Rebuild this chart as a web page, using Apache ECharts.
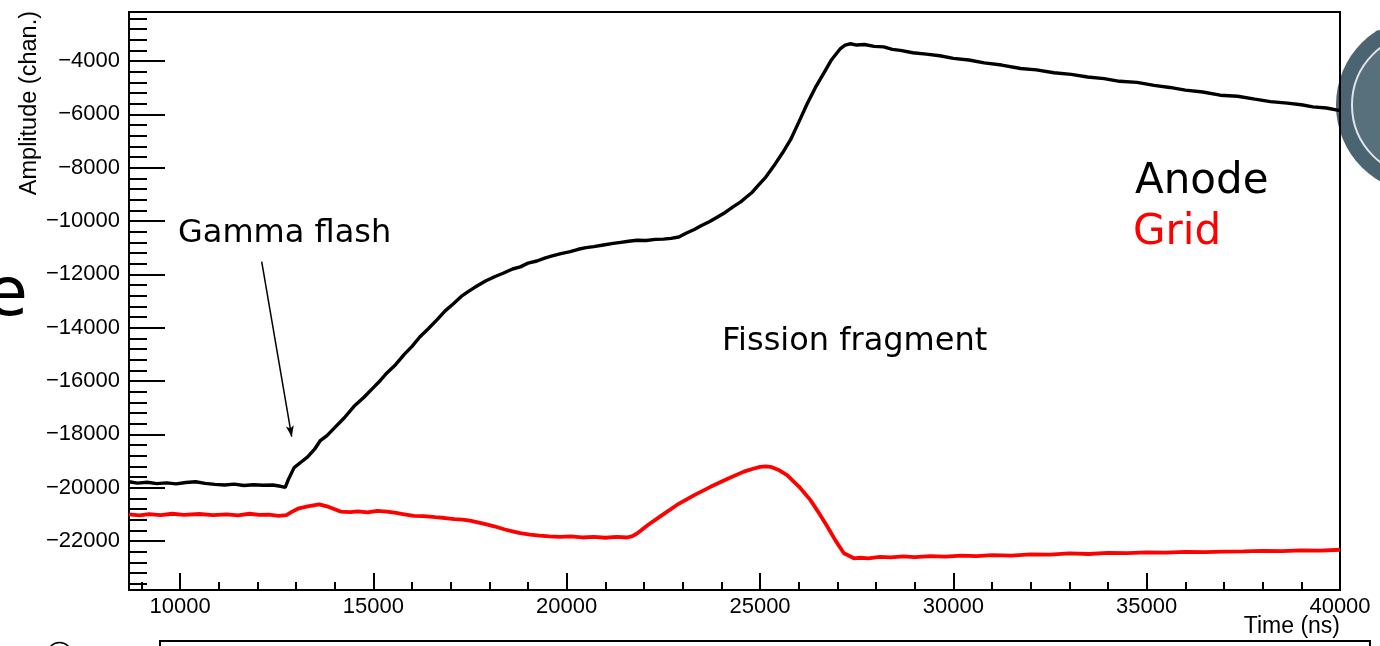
<!DOCTYPE html>
<html>
<head>
<meta charset="utf-8">
<script src="https://cdn.jsdelivr.net/npm/echarts@6/dist/echarts.min.js"></script>
<style>
html,body{margin:0;padding:0;background:#fff;}
#chart{width:1380px;height:646px;}
</style>
</head>
<body>
<div id="chart"></div>
<script>
// ---- Data ----
const anodeTime = [8680,8900,9150,9400,9650,9900,10150,10400,10650,10900,11150,11400,11650,11900,12150,12400,12600,12720,12800,12950,13150,13300,13480,13620,13800,14000,14250,14500,14750,15000,15180,15350,15580,15800,16000,16200,16420,16650,16850,17070,17280,17500,17700,17900,18150,18370,18600,18800,19000,19230,19450,19650,19850,20090,20300,20500,20700,20950,21200,21400,21600,21820,22050,22300,22500,22700,22900,23100,23300,23450,23700,23900,24100,24320,24500,24650,24800,24930,25150,25350,25580,25790,26000,26220,26430,26650,26850,27080,27200,27340,27500,27700,27950,28200,28420,28630,28950,29300,29650,30000,30400,30800,31250,31740,32150,32600,33050,33470,33900,34300,34750,35190,35600,36000,36450,36900,37350,37800,38200,38640,39000,39300,39650,40000];
const anodeAmp = [-19780,-19830,-19800,-19850,-19820,-19860,-19810,-19780,-19840,-19880,-19900,-19870,-19920,-19890,-19910,-19900,-19950,-19990,-19700,-19250,-19020,-18850,-18560,-18250,-18050,-17750,-17380,-16950,-16620,-16250,-15980,-15700,-15380,-15000,-14700,-14350,-14040,-13700,-13380,-13100,-12820,-12600,-12420,-12250,-12080,-11950,-11800,-11720,-11580,-11500,-11380,-11300,-11220,-11150,-11060,-11000,-10960,-10900,-10840,-10800,-10760,-10720,-10730,-10690,-10680,-10650,-10600,-10450,-10320,-10200,-10020,-9850,-9680,-9450,-9280,-9100,-8920,-8700,-8350,-7950,-7450,-6950,-6300,-5600,-5000,-4450,-3950,-3530,-3400,-3350,-3400,-3380,-3450,-3470,-3560,-3600,-3690,-3740,-3800,-3900,-3960,-4070,-4150,-4280,-4330,-4440,-4500,-4600,-4660,-4760,-4800,-4910,-4990,-5090,-5160,-5280,-5320,-5430,-5520,-5580,-5640,-5720,-5760,-5860];

const gridTime = [8680,8950,9200,9500,9800,10100,10500,10850,11200,11500,11800,12050,12300,12550,12750,12900,13050,13300,13600,13800,13950,14150,14400,14600,14850,15100,15350,15550,15800,16050,16300,16600,16850,17100,17300,17500,17700,17900,18150,18400,18600,18800,19050,19300,19550,19830,20100,20400,20700,21000,21300,21560,21700,21820,22100,22420,22850,23300,23720,24150,24580,24800,25000,25150,25270,25500,25700,26000,26300,26500,26740,26950,27170,27430,27600,27800,28100,28380,28700,29000,29400,29800,30200,30600,31000,31500,32000,32500,33000,33500,34000,34500,35000,35500,36000,36500,37000,37500,38000,38500,39000,39500,40000];
const gridAmp = [-21000,-21040,-20990,-21030,-20980,-21020,-20990,-21030,-21000,-21040,-20980,-21020,-21010,-21060,-21030,-20900,-20790,-20700,-20630,-20700,-20780,-20900,-20920,-20890,-20930,-20870,-20900,-20940,-21000,-21060,-21070,-21110,-21140,-21180,-21200,-21240,-21300,-21370,-21460,-21570,-21640,-21710,-21760,-21800,-21830,-21850,-21830,-21870,-21850,-21880,-21850,-21870,-21820,-21720,-21400,-21080,-20650,-20280,-19970,-19680,-19400,-19300,-19220,-19200,-19220,-19350,-19530,-19950,-20460,-20900,-21460,-21980,-22460,-22650,-22630,-22650,-22600,-22620,-22580,-22610,-22570,-22590,-22550,-22570,-22530,-22550,-22500,-22510,-22470,-22490,-22450,-22460,-22430,-22440,-22410,-22420,-22400,-22390,-22370,-22380,-22350,-22360,-22330];

const xMajorTicks = [10000,15000,20000,25000,30000,35000,40000];
const yMajorTicks = [-22000,-20000,-18000,-16000,-14000,-12000,-10000,-8000,-6000,-4000];

const xRange = [8680, 40000];
const yRange = [-23840, -2160];

// minor ticks (1000 for x, 400 for y), skipping majors
const xMinorTicks = [];
for (let v = 9000; v < 40000; v += 1000) if (v % 5000 !== 0) xMinorTicks.push(v);
const yMinorTicks = [];
for (let v = -23600; v <= -2400; v += 400) if (v % 2000 !== 0) yMinorTicks.push(v);

const anodeData = anodeTime.map((t, i) => [t, anodeAmp[i]]);
const gridData = gridTime.map((t, i) => [t, gridAmp[i]]);

const tickFont = 'Liberation Sans';
const fmt = v => String(v).replace('-', '\u2212');

const chart = echarts.init(document.getElementById('chart'), null, {renderer: 'canvas'});
chart.setOption({
  animation: false,
  backgroundColor: '#fff',
  grid: {left: 129, right: 40, top: 12, bottom: 56, show: true, borderColor: '#000', borderWidth: 2, backgroundColor: 'transparent'},
  xAxis: [
    {
      type: 'value', min: xRange[0], max: xRange[1],
      axisLine: {show: true, onZero: false, lineStyle: {color: '#000', width: 2}},
      axisTick: {show: true, inside: true, length: 17, customValues: xMajorTicks, lineStyle: {color: '#000', width: 2}},
      axisLabel: {show: true, customValues: xMajorTicks, margin: 6, color: '#000', fontFamily: tickFont, fontSize: 22, formatter: fmt},
      splitLine: {show: false}
    },
    {
      type: 'value', min: xRange[0], max: xRange[1], position: 'bottom',
      axisLine: {show: false},
      axisTick: {show: true, inside: true, length: 8, customValues: xMinorTicks, lineStyle: {color: '#000', width: 2}},
      axisLabel: {show: false},
      splitLine: {show: false}
    }
  ],
  yAxis: [
    {
      type: 'value', min: yRange[0], max: yRange[1],
      axisLine: {show: true, onZero: false, lineStyle: {color: '#000', width: 2}},
      axisTick: {show: true, inside: true, length: 36, customValues: yMajorTicks, lineStyle: {color: '#000', width: 2}},
      axisLabel: {show: true, customValues: yMajorTicks, margin: 9, color: '#000', fontFamily: tickFont, fontSize: 22, formatter: fmt},
      splitLine: {show: false}
    },
    {
      type: 'value', min: yRange[0], max: yRange[1], position: 'left',
      axisLine: {show: false},
      axisTick: {show: true, inside: true, length: 18, customValues: yMinorTicks, lineStyle: {color: '#000', width: 2}},
      axisLabel: {show: false},
      splitLine: {show: false}
    }
  ],
  series: [
    {
      name: 'Anode', type: 'line', xAxisIndex: 0, yAxisIndex: 0, data: anodeData,
      showSymbol: false, lineStyle: {color: '#000', width: 3.4}, z: 3,
      markLine: {
        silent: true, symbol: ['none', 'arrow'], symbolSize: [6, 11],
        lineStyle: {color: '#000', width: 1.5, type: 'solid'}, label: {show: false},
        data: [[{coord: [12112, -11526]}, {coord: [12888, -18090]}]]
      }
    },
    {
      name: 'Grid', type: 'line', xAxisIndex: 0, yAxisIndex: 0, data: gridData,
      showSymbol: false, lineStyle: {color: '#ff0000', width: 3.8}, z: 2
    }
  ],
  graphic: [
    // logo fragment at right edge
    {type: 'circle', z: -10, shape: {cx: 1424, cy: 105, r: 88}, style: {fill: '#4b6471'}},
    {type: 'circle', z: -9, shape: {cx: 1424, cy: 105, r: 72}, style: {fill: '#58707c', stroke: '#dfe6ea', lineWidth: 2}},
    {type: 'text', z: -8, x: 1343, y: 34, rotation: 0.35, style: {text: 'ΧΝΕΙΟ', fill: '#ffffff', font: 'bold 12px "DejaVu Sans"'}},
    // slide text fragment
    {type: 'text', x: -14, y: 297, style: {text: 'e', fill: '#000', font: '68px "DejaVu Sans"', align: 'left', verticalAlign: 'middle'}},
    // bottom slide elements
    {type: 'circle', shape: {cx: 59.5, cy: 655, r: 12.5}, style: {fill: 'none', stroke: '#000', lineWidth: 1.5}},
    {type: 'rect', shape: {x: 160, y: 641, width: 1210, height: 100}, style: {fill: 'none', stroke: '#000', lineWidth: 2}},
    // axis titles
    {type: 'text', x: 30, y: 11, rotation: Math.PI / 2, style: {text: 'Amplitude (chan.)', fill: '#000', font: '23.5px "Liberation Sans"', align: 'right', verticalAlign: 'middle'}},
    {type: 'text', x: 1340, y: 627, style: {text: 'Time (ns)', fill: '#000', font: '23px "Liberation Sans"', align: 'right', verticalAlign: 'middle'}},
    // annotations
    {type: 'text', x: 178, y: 234, style: {text: 'Gamma flash', fill: '#000', font: '32px "DejaVu Sans"', align: 'left', verticalAlign: 'middle'}},
    {type: 'text', x: 722, y: 342, style: {text: 'Fission fragment', fill: '#000', font: '32px "DejaVu Sans"', align: 'left', verticalAlign: 'middle'}},
    {type: 'text', x: 1135, y: 182, style: {text: 'Anode', fill: '#000', font: '42px "DejaVu Sans"', align: 'left', verticalAlign: 'middle'}},
    {type: 'text', x: 1133, y: 233, style: {text: 'Grid', fill: '#ff0000', font: '42px "DejaVu Sans"', align: 'left', verticalAlign: 'middle'}}
  ]
});
</script>
</body>
</html>
